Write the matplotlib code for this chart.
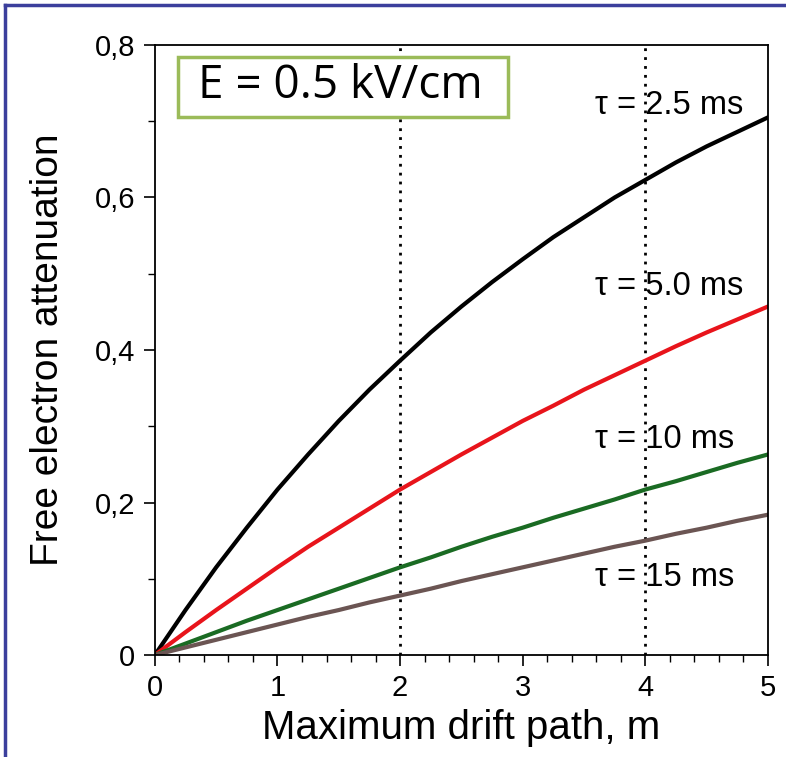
import numpy as np
from matplotlib import pyplot as plt
from matplotlib.lines import Line2D
from matplotlib.patches import Rectangle
from matplotlib.ticker import MultipleLocator

# values
drift = [0, 0.25, 0.5, 0.75, 1, 1.25, 1.5, 1.75, 2, 2.25, 2.5,
         2.75, 3, 3.25, 3.5, 3.75, 4, 4.25, 4.5, 4.75, 5]
att_25 = [0, 0.059, 0.115, 0.167, 0.217, 0.263, 0.307, 0.348, 0.386, 0.423, 0.457,
          0.489, 0.519, 0.548, 0.574, 0.600, 0.623, 0.646, 0.667, 0.686, 0.705]
att_50 = [0, 0.030, 0.059, 0.087, 0.115, 0.142, 0.167, 0.192, 0.217, 0.240, 0.263,
          0.285, 0.307, 0.327, 0.348, 0.367, 0.386, 0.405, 0.423, 0.440, 0.457]
att_10 = [0, 0.015, 0.030, 0.045, 0.059, 0.073, 0.087, 0.101, 0.115, 0.128, 0.142,
          0.155, 0.167, 0.180, 0.192, 0.204, 0.217, 0.228, 0.240, 0.252, 0.263]
att_15 = [0, 0.010, 0.020, 0.030, 0.040, 0.050, 0.059, 0.069, 0.078, 0.087, 0.097,
          0.106, 0.115, 0.124, 0.133, 0.142, 0.150, 0.159, 0.167, 0.176, 0.184]
labels = ["τ = 2.5 ms", "τ = 5.0 ms", "τ = 10 ms", "τ = 15 ms"]
label_y = [0.721, 0.483, 0.282, 0.102]
colors = ["black", "#e8141b", "#1a6b23", "#6b5553"]
marks = [2, 4]

plt.rcParams['font.family'] = ['Liberation Sans', 'DejaVu Sans']

fig = plt.figure(figsize=(7.86, 7.57), dpi=100)
ax = fig.add_axes([0.197, 0.1347, 0.78, 0.8059])

for x in marks:
    ax.axvline(x, color="black", ls=(0, (1, 2.2)), lw=2)

for y, c in zip([att_25, att_50, att_10, att_15], colors):
    ax.plot(drift, y, color=c, lw=3)

for lab, ly in zip(labels, label_y):
    ax.text(3.59, ly, lab, fontsize=23.5, va="center", ha="left")

ax.add_patch(Rectangle((0.0375, 0.882), 0.5385, 0.098, transform=ax.transAxes,
                       fc="white", ec="#9bbb59", lw=2.5, zorder=3))
ax.text(0.302, 0.932, "E = 0.5 kV/cm", transform=ax.transAxes, fontsize=33,
        family=['Open Sans', 'DejaVu Sans'], ha="center", va="center", zorder=4)

ax.set_xlim(0, 5)
ax.set_ylim(0, 0.8)
ax.xaxis.set_major_locator(MultipleLocator(1))
ax.xaxis.set_minor_locator(MultipleLocator(0.2))
ax.yaxis.set_minor_locator(MultipleLocator(0.1))
ax.set_yticks([0, 0.2, 0.4, 0.6, 0.8])
ax.set_yticklabels(["0", "0,2", "0,4", "0,6", "0,8"])
ax.tick_params(which="major", length=8, width=1.2, labelsize=21, direction="out", pad=6)
ax.tick_params(which="minor", length=5, width=1.0, direction="out")
for s in ax.spines.values():
    s.set_linewidth(1.3)

ax.set_xlabel("Maximum drift path, m", fontsize=29, va="center")
ax.set_ylabel("Free electron attenuation", fontsize=28, va="center")
ax.xaxis.set_label_coords(0.5, -0.12)
ax.yaxis.set_label_coords(-0.174, 0.5)

# frame around the slide
fig.add_artist(Line2D([5 / 786, 1.0], [1 - 5 / 757] * 2, color="#3b3f9c", lw=2.5))
fig.add_artist(Line2D([5 / 786] * 2, [0.0, 1 - 5 / 757], color="#3b3f9c", lw=2.5))

plt.savefig("out.png", dpi=100)
